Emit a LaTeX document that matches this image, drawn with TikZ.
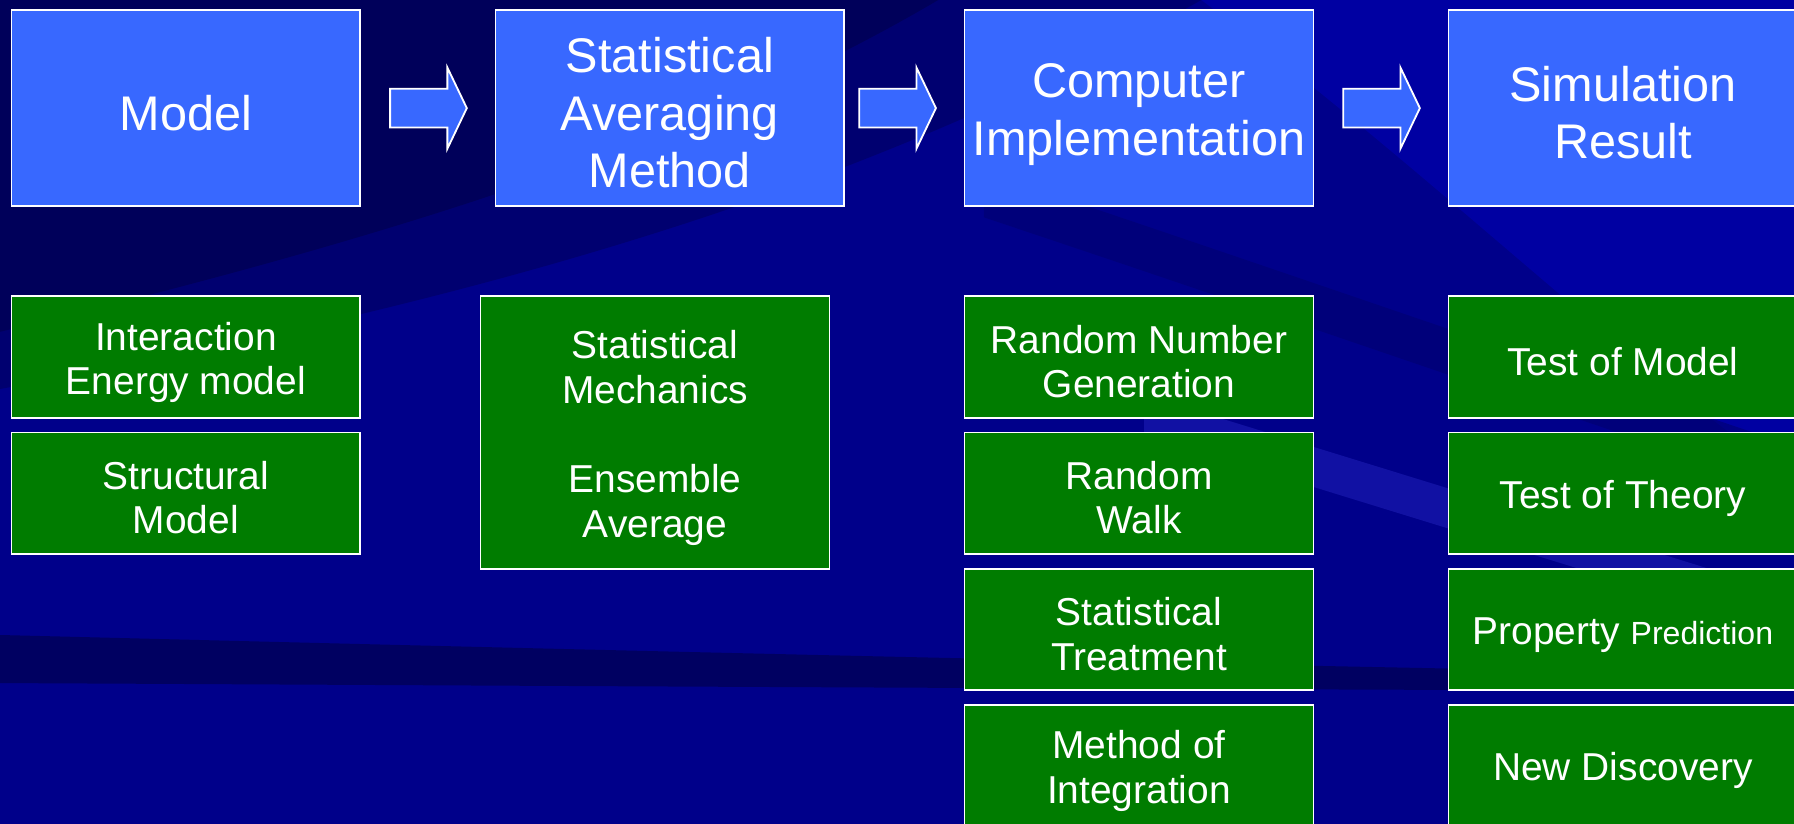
\documentclass[tikz,border=0pt]{standalone}
\usepackage{fontspec}
\setmainfont{Liberation Sans}
\usetikzlibrary{calc}
\definecolor{bgbase}{HTML}{00008A}
\definecolor{bgdark}{HTML}{00005A}
\definecolor{bgmid}{HTML}{000070}
\definecolor{bglight}{HTML}{0000A2}
\definecolor{streak}{HTML}{2020B8}
\definecolor{topblue}{HTML}{3868FF}
\definecolor{boxgreen}{HTML}{007C00}
\newcommand\tstr{\rule[-2.6pt]{0pt}{43.6pt}}
\newcommand\gstr{\rule[-1.7pt]{0pt}{35.7pt}}
\begin{document}
\begin{tikzpicture}[x=1pt,y=-1pt,
  topbox/.style={draw=white, line width=1.6pt, fill=topblue, text=white,
    minimum width=305pt, minimum height=171pt, inner sep=0pt, outer sep=0pt,
    align=center, font=\fontsize{42.5}{50.5}\selectfont},
  subbox/.style={draw=white, line width=1.6pt, fill=boxgreen, text=white,
    minimum width=305pt, minimum height=106pt, inner sep=0pt, outer sep=0pt,
    align=center, font=\fontsize{34}{39}\selectfont},
  blockarrow/.style={draw=white, line width=1.6pt, fill=topblue, line join=miter}]
\useasboundingbox (0,0) rectangle (1568,720);
\clip (0,0) rectangle (1568,720);
% background
\fill[bgbase] (0,0) rectangle (1568,720);
\fill[bglight] (1050,0) -- (1568,0) -- (1568,420) .. controls (1400,300) and (1250,150) .. (1050,0) -- cycle;
\fill[bgmid] (0,0) -- (1050,0) .. controls (800,140) and (500,250) .. (0,340) -- cycle;
\fill[bgdark] (0,0) -- (820,0) .. controls (650,100) and (420,190) .. (0,290) -- cycle;
\fill[bgmid, opacity=0.6] (860,150) .. controls (1100,230) and (1300,300) .. (1568,390) -- (1568,430) .. controls (1300,340) and (1100,270) .. (860,190) -- cycle;
\fill[streak, opacity=0.55] (1000,345) -- (1568,520) -- (1568,555) -- (1000,380) -- cycle;
\fill[bgdark, opacity=0.85] (0,555) .. controls (400,565) and (900,578) .. (1568,590) -- (1568,604) .. controls (900,602) and (400,599) .. (0,597) -- cycle;
% top row
\node[topbox] (m1) at (162.5,94.5) {\tstr Model};
\node[topbox] (m2) at (585.5,94.5) {\tstr Statistical\\\tstr Averaging\\\tstr Method};
\node[topbox] (m3) at (995.5,94.5) {\tstr Computer\\\tstr Implementation};
\node[topbox] (m4) at (1418.5,94.5) {\tstr Simulation\\\tstr Result};
% arrows
\foreach \a/\b/\g in {m1/m2/26, m2/m3/13, m3/m4/26}{
  \draw[blockarrow, shift={($(\a.east)+(\g,0)$)}]
    (0,-17) -- (50,-17) -- (50,-35.5) -- (67,0) -- (50,35.5) -- (50,17) -- (0,17) -- cycle;
}
% column 1
\node[subbox] (c1a) at (162.5,312) {\gstr Interaction\\\gstr Energy model};
\node[subbox] (c1b) at (162.5,431) {\gstr Structural\\\gstr Model};
% column 2
\node[subbox, minimum height=238pt] (c2) at (572.5,378) {\gstr Statistical\\\gstr Mechanics\\\gstr\\\gstr Ensemble\\\gstr Average};
% column 3
\node[subbox] (c3a) at (995.5,312) {\gstr Random Number\\\gstr Generation};
\node[subbox] (c3b) at (995.5,431) {\gstr Random\\\gstr Walk};
\node[subbox] (c3c) at (995.5,550) {\gstr Statistical\\\gstr Treatment};
\node[subbox] (c3d) at (995.5,669) {\gstr Method of\\\gstr Integration};
% column 4
\node[subbox] (c4a) at (1418.5,312) {\gstr Test of Model};
\node[subbox] (c4b) at (1418.5,431) {\gstr Test of Theory};
\node[subbox] (c4c) at (1418.5,550) {\gstr Property {\fontsize{28}{39}\selectfont Prediction}};
\node[subbox] (c4d) at (1418.5,669) {\gstr New Discovery};
\end{tikzpicture}
\end{document}
